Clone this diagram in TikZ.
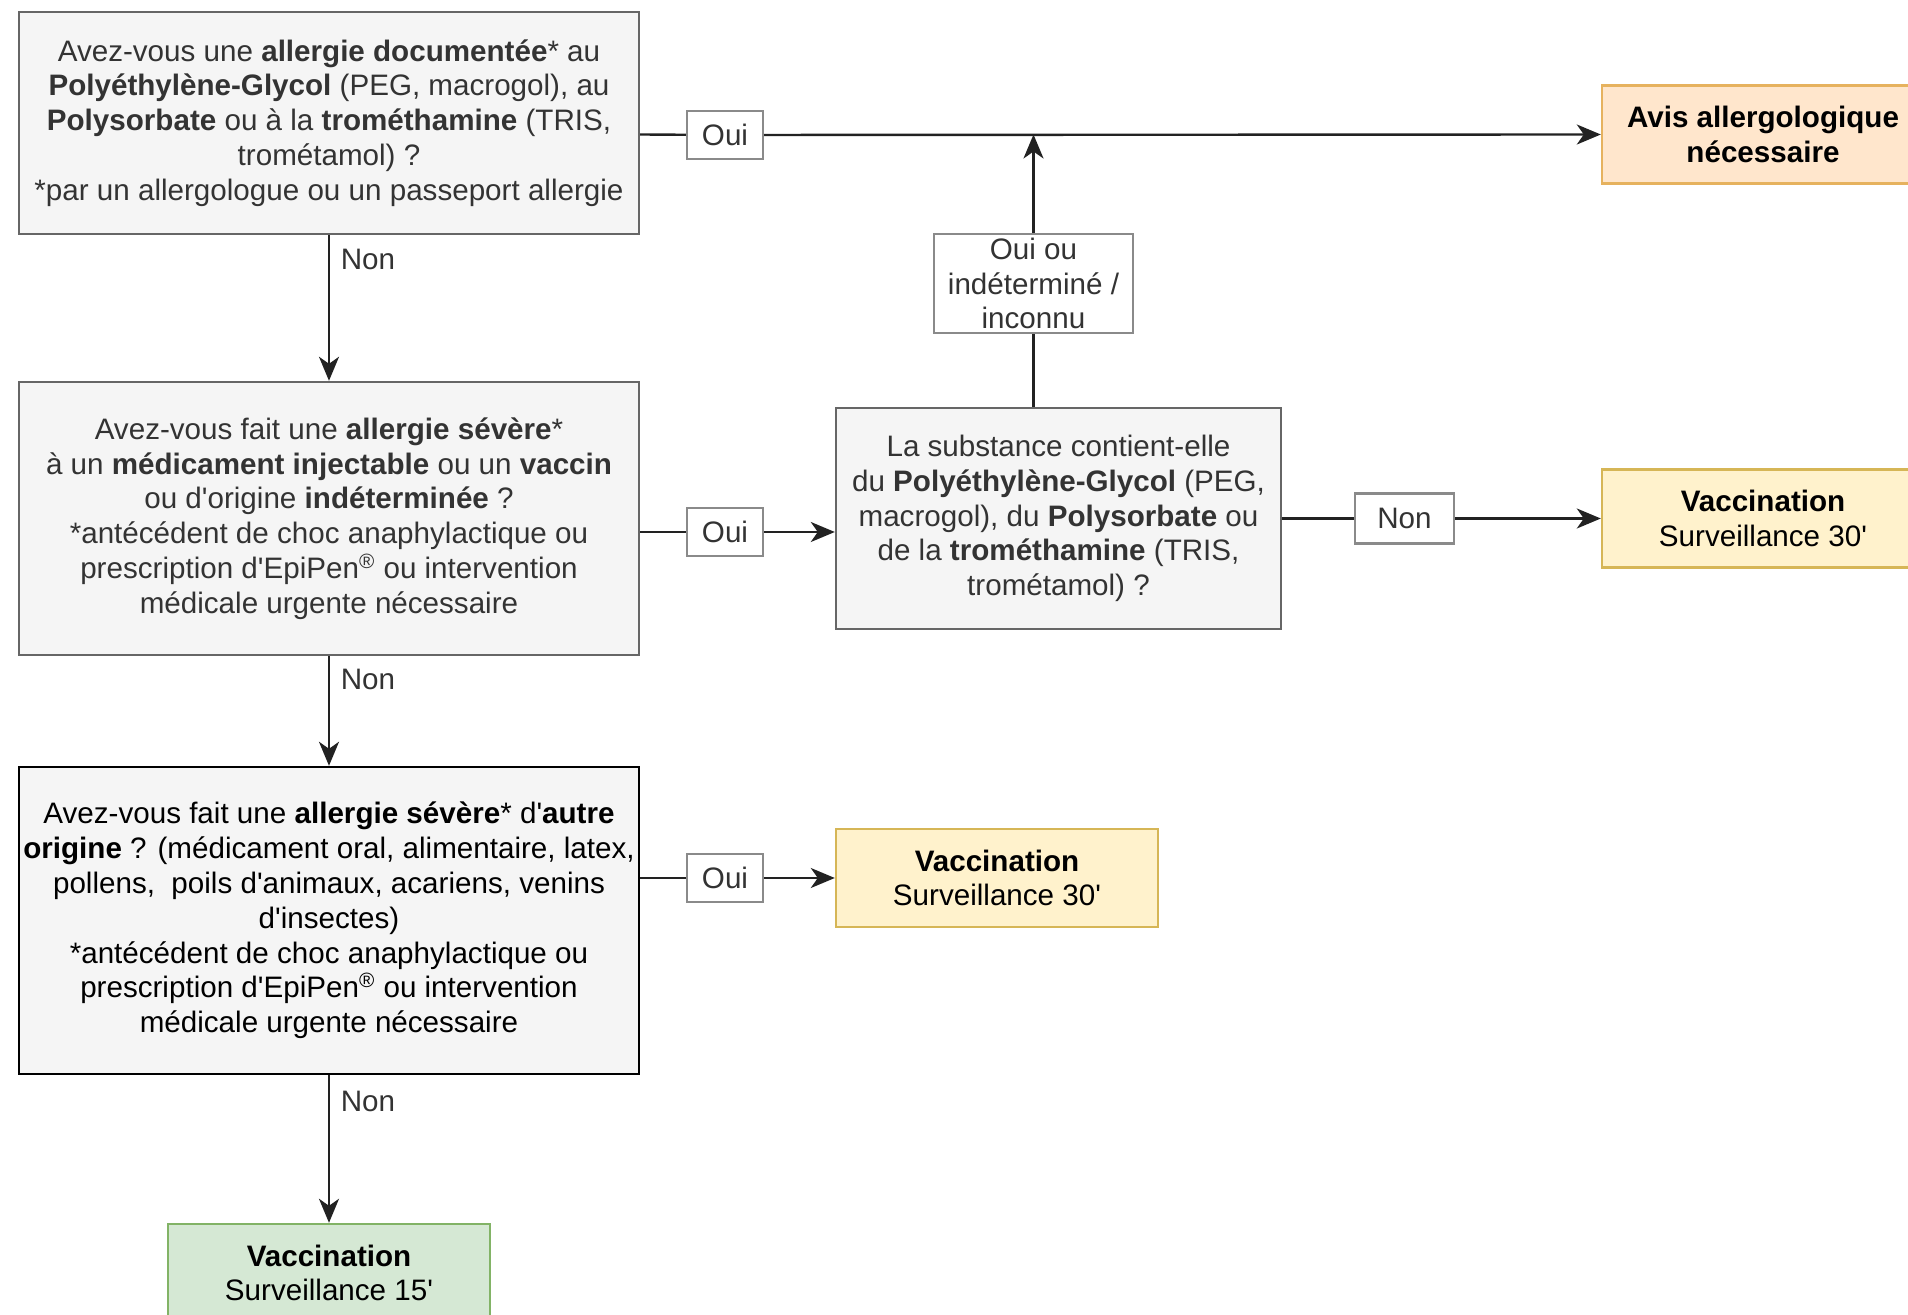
\documentclass[tikz,border=0pt]{standalone}
\usepackage{fontspec}
\newfontfamily\chartfont{Liberation Sans}
\usetikzlibrary{arrows.meta}
\usepackage{xcolor}

\definecolor{qfill}{HTML}{F5F5F5}
\definecolor{qdraw}{HTML}{666666}
\definecolor{qtext}{HTML}{333333}
\definecolor{lbldraw}{HTML}{8A8A8A}
\definecolor{avisfill}{HTML}{FFE6CC}
\definecolor{avisdraw}{HTML}{E6B25E}
\definecolor{vacfill}{HTML}{FFF2CC}
\definecolor{vacdraw}{HTML}{D6B656}
\definecolor{okfill}{HTML}{D5E8D4}
\definecolor{okdraw}{HTML}{82B366}
\definecolor{flowline}{HTML}{222222}

\tikzset{
  every node/.style={font=\chartfont\fontsize{14.8}{17.4}\selectfont},
  question/.style={draw=qdraw, fill=qfill, line width=1.2pt, align=center, text=qtext, inner sep=0pt},
  answer/.style={draw=lbldraw, fill=white, line width=1.2pt, align=center, text=qtext, inner sep=0pt},
  result/.style={line width=1.2pt, align=center, inner sep=0pt, minimum width=161pt, minimum height=49pt},
  nonlabel/.style={anchor=west, xshift=2pt, text=qtext},
  flow/.style={draw=flowline, line width=1.2pt, -{Stealth[length=12pt,width=10pt,inset=3.5pt]}}
}

\begin{document}
\begin{tikzpicture}[x=0.5pt,y=0.5pt,yscale=-1,xscale=1]
\useasboundingbox (0,0) rectangle (1908,1315);

%Shape: Rectangle [question 1]
\node[question, minimum width=310pt, minimum height=111pt] (q1) at (329,123)
  {Avez-vous une \textbf{allergie documentée}* au\\
   \textbf{Polyéthylène-Glycol} (PEG, macrogol), au\\
   \textbf{Polysorbate} ou à la \textbf{trométhamine} (TRIS,\\
   trométamol) ?\\
   *par un allergologue ou un passeport allergie};
%Shape: Rectangle [question 2]
\node[question, minimum width=310pt, minimum height=136.5pt] (q2) at (329,518.5)
  {Avez-vous fait une \textbf{allergie sévère}*\\
   à un \textbf{médicament injectable} ou un \textbf{vaccin}\\
   ou d'origine \textbf{indéterminée} ?\\
   *antécédent de choc anaphylactique ou\\
   prescription d'EpiPen\textsuperscript{®} ou intervention\\
   médicale urgente nécessaire};
%Shape: Rectangle [question 3]
\node[question, draw=black, text=black, minimum width=310pt, minimum height=153.5pt] (q3) at (329,920.5)
  {Avez-vous fait une \textbf{allergie sévère}* d'\textbf{autre}\\
   \textbf{origine} ? (médicament oral, alimentaire, latex,\\
   pollens,\ \ poils d'animaux, acariens, venins\\
   d'insectes)\\
   *antécédent de choc anaphylactique ou\\
   prescription d'EpiPen\textsuperscript{®} ou intervention\\
   médicale urgente nécessaire};
%Shape: Rectangle [substance]
\node[question, minimum width=222.5pt, minimum height=110.5pt] (q4) at (1058.5,518.5)
  {La substance contient-elle\\
   du \textbf{Polyéthylène-Glycol} (PEG,\\
   macrogol), du \textbf{Polysorbate} ou\\
   de la \textbf{trométhamine} (TRIS,\\
   trométamol) ?};

%Shape: Rectangle [results]
\node[result, draw=avisdraw, fill=avisfill] (avis) at (1763,134.5)
  {\textbf{Avis allergologique}\\ \textbf{nécessaire}};
\node[result, draw=vacdraw, fill=vacfill] (v30a) at (1763,518.5)
  {\textbf{Vaccination}\\ Surveillance 30'};
\node[result, draw=vacdraw, fill=vacfill] (v30b) at (997,878)
  {\textbf{Vaccination}\\ Surveillance 30'};
\node[result, draw=okdraw, fill=okfill] (v15) at (329,1273)
  {\textbf{Vaccination}\\ Surveillance 15'};

% Text Node [answers]
\node[answer, minimum width=38pt, minimum height=24pt] (oui1) at (725,135) {Oui};
\node[answer, minimum width=38pt, minimum height=24pt] (oui2) at (725,532) {Oui};
\node[answer, minimum width=38pt, minimum height=24pt] (oui3) at (725,878) {Oui};
\node[answer, minimum width=49.5pt, minimum height=25pt] (non4) at (1404.5,518.5) {Non};
\node[answer, minimum width=99.5pt, minimum height=49.5pt] (ouiou) at (1033.5,283.5)
  {Oui ou\\ indéterminé /\\ inconnu};

%Straight Lines
\draw[flow] (q1.east |- avis.west) -- (oui1) -- (avis.west);
\draw[flow] (q2.east |- oui2) -- (oui2) -- (q4.west |- oui2);
\draw[flow] (q3.east |- v30b.west) -- (oui3) -- (v30b.west);
\draw[flow] (q4.east) -- (non4) -- (v30a.west);
\draw[flow] (ouiou |- q4.north) -- (ouiou) -- (ouiou |- avis.west);
\draw[flow] (q1.south) -- node[nonlabel, pos=0.17] (non1) {Non} (q2.north);
\draw[flow] (q2.south) -- node[nonlabel, pos=0.21] (non2) {Non} (q3.north);
\draw[flow] (q3.south) -- node[nonlabel, pos=0.18] (non3) {Non} (v15.north);

\end{tikzpicture}
\end{document}
